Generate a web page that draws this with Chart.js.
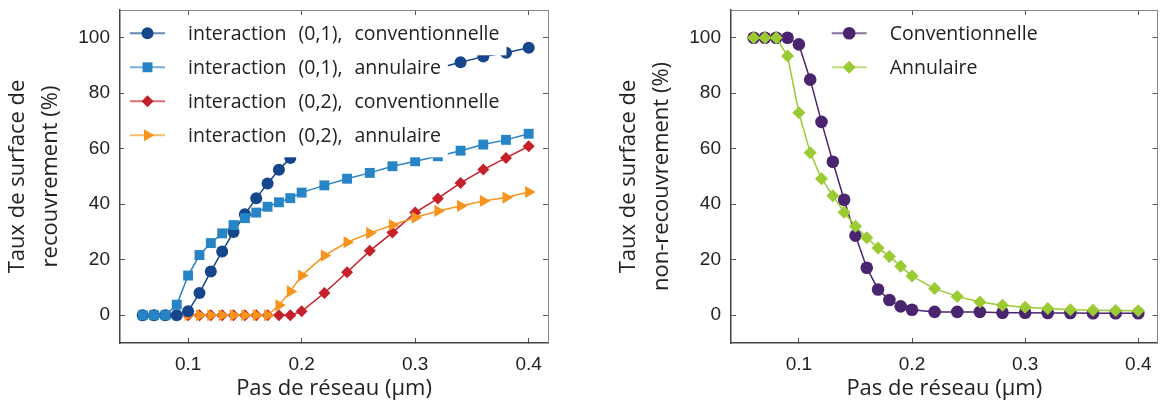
<!DOCTYPE html>
<html>
<head>
<meta charset="utf-8">
<script src="https://cdn.jsdelivr.net/npm/chart.js@4.4.1/dist/chart.umd.min.js"></script>
<style>
  html, body { margin: 0; padding: 0; background: #fff; }
  #wrap { position: relative; width: 1164px; height: 405px; }
  .panel { position: absolute; top: 0; height: 405px; }
  #left { left: 0; width: 611px; }
  #right { left: 611px; width: 553px; }
</style>
</head>
<body>
<div id="wrap">
  <div class="panel" id="left"><canvas id="chartLeft" width="611" height="405"></canvas></div>
  <div class="panel" id="right"><canvas id="chartRight" width="553" height="405"></canvas></div>
</div>
<script>
// lattice pitch (µm), same sampling in both panels
const pitch = [0.06, 0.07, 0.08, 0.09, 0.10, 0.11, 0.12, 0.13, 0.14, 0.15, 0.16, 0.17, 0.18, 0.19, 0.20,
               0.22, 0.24, 0.26, 0.28, 0.30, 0.32, 0.34, 0.36, 0.38, 0.40];
const xTicks = [0.1, 0.2, 0.3, 0.4];
const yTicks = [0, 20, 40, 60, 80, 100];

// left panel : overlap ratio (%)
const conv01 = [0, 0, 0, 0, 1.4, 8, 15.8, 23, 30, 36.4, 42.2, 47.5, 52.4, 56.7, 60.5,
                67, 73, 78, 82.5, 86, 89, 91.2, 93.2, 94.6, 96.4];
const ann01 = [0, 0, 0, 3.8, 14.3, 21.7, 26, 29.5, 32.5, 35, 37, 39.1, 40.7, 42.2, 44.2,
               46.8, 49.2, 51.3, 53.7, 55.5, 57.3, 59.3, 61.5, 63.2, 65.4];
const conv02 = [0, 0, 0, 0, 0, 0, 0, 0, 0, 0, 0, 0, 0, 0, 1.4,
                8, 15.5, 23.2, 29.8, 37, 42.1, 47.7, 52.5, 56.7, 60.9];
const ann02 = [0, 0, 0, 0, 0, 0, 0, 0, 0, 0, 0, 0, 3.6, 8.6, 14.3,
               21.5, 26.3, 29.6, 32.5, 35.2, 37.6, 39.4, 41.2, 42.4, 44.4];

// right panel : non-overlap ratio (%)
const convNon = [100, 100, 100, 100, 97.6, 84.9, 69.7, 55.3, 41.6, 28.7, 17.1, 9.3, 5.5, 3.2, 2.0,
                 1.2, 1.2, 1.2, 0.9, 0.9, 0.8, 0.8, 0.7, 0.7, 0.7];
const annNon = [100, 100, 100, 93.4, 73, 58.6, 49.2, 43.1, 37.1, 32.1, 27.9, 24.2, 21.2, 17.7, 14.1,
                9.6, 6.8, 4.8, 3.6, 2.9, 2.4, 2.0, 1.8, 1.7, 1.6];

const tickFont = { family: 'Liberation Sans', size: 19 };
const titleFont = { family: 'Open Sans', size: 22, lineHeight: 1.5 };
const legendFont = '19.5px "Open Sans"';

// legend drawn inside the plot, each row on its own white box (hides data under it)
const boxLegend = {
  id: 'boxLegend',
  afterDatasetsDraw(chart, args, opts) {
    const { ctx, chartArea } = chart;
    const x0 = chartArea.left + opts.left;
    const tx = x0 + 58;
    const rows = chart.data.datasets.map((ds, i) => ({ ds, y: chartArea.top + opts.top + i * opts.gap }));
    ctx.save();
    ctx.font = legendFont;
    ctx.wordSpacing = '7px'; // latex-like wide spaces
    ctx.textBaseline = 'middle';
    rows.forEach(({ ds, y }) => {
      const w = ctx.measureText(ds.label).width;
      ctx.fillStyle = '#fff';
      ctx.fillRect(x0 - 6, y - 17, tx + w + 7 - (x0 - 6), 39);
    });
    rows.forEach(({ ds, y }) => {
      ctx.globalAlpha = 0.65;
      ctx.strokeStyle = ds.borderColor;
      ctx.lineWidth = 2;
      ctx.beginPath();
      ctx.moveTo(x0, y);
      ctx.lineTo(x0 + 35, y);
      ctx.stroke();
      ctx.globalAlpha = 1;
      ctx.fillStyle = ds.borderColor;
      Chart.helpers.drawPoint(ctx, {
        pointStyle: ds.pointStyle, radius: ds.pointRadius, rotation: ds.pointRotation || 0, borderWidth: 0
      }, x0 + 17.5, y);
      ctx.fillStyle = '#222';
      ctx.fillText(ds.label, tx, y + 1);
    });
    ctx.restore();
  }
};

function series(label, values, color, style, radius, rotation, order) {
  return {
    label, order, xAxisID: 'x', yAxisID: 'y',
    data: pitch.map((x, i) => ({ x, y: values[i] })),
    borderColor: color, backgroundColor: color, borderWidth: 1.5,
    pointStyle: style, pointRadius: radius, pointHoverRadius: radius, pointRotation: rotation,
    pointBackgroundColor: color, pointBorderColor: color, pointBorderWidth: 0
  };
}

// keep tick labels from pushing the plot area around
function fixSize(prop, val) {
  return s => {
    s[prop] = val;
    s.paddingTop = 0; s.paddingBottom = 0; s.paddingLeft = 0; s.paddingRight = 0;
  };
}

function scales(yTitle) {
  const setX = s => { s.ticks = xTicks.map(v => ({ value: v })); };
  const setY = s => { s.ticks = yTicks.map(v => ({ value: v })); };
  const inner = { drawOnChartArea: false, tickLength: -5, tickColor: '#555' };
  return {
    x: {
      type: 'linear', position: 'bottom', min: 0.04, max: 0.417,
      afterBuildTicks: setX, afterFit: fixSize('height', 62),
      grid: inner, border: { color: '#444', width: 1.5 },
      ticks: { padding: 15, color: '#222', font: tickFont, callback: v => v.toFixed(1) },
      title: { display: true, text: 'Pas de réseau (μm)', color: '#222', font: titleFont, padding: { top: 0, bottom: 0 } }
    },
    y: {
      min: -10, max: 110,
      afterBuildTicks: setY, afterFit: fixSize('width', 120),
      grid: inner, border: { color: '#444', width: 1.5 },
      ticks: { padding: 15, color: '#222', font: tickFont },
      title: { display: true, text: yTitle, color: '#222', font: titleFont, padding: { top: 1.5, bottom: 0 } }
    },
    x2: {
      type: 'linear', position: 'top', min: 0.04, max: 0.417,
      afterBuildTicks: setX, afterFit: fixSize('height', 0),
      grid: inner, border: { color: '#888', width: 1 }, ticks: { display: false }
    },
    y2: {
      position: 'right', min: -10, max: 110,
      afterBuildTicks: setY, afterFit: fixSize('width', 0),
      grid: inner, border: { color: '#888', width: 1 }, ticks: { display: false }
    }
  };
}

function makeChart(id, datasets, yTitle, rightPad, legendLeft) {
  return new Chart(document.getElementById(id), {
    type: 'line',
    data: { datasets },
    options: {
      responsive: false,
      animation: false,
      layout: { padding: { top: 10, right: rightPad, bottom: 0, left: 0 } },
      plugins: {
        legend: { display: false },
        tooltip: { enabled: false },
        boxLegend: { left: legendLeft, top: 23.3, gap: 34 }
      },
      scales: scales(yTitle)
    },
    plugins: [boxLegend]
  });
}

makeChart('chartLeft', [
  series('interaction (0,1), conventionnelle', conv01, '#15468b', 'circle', 6, 0, 1),
  series('interaction (0,1), annulaire', ann01, '#2784c6', 'rect', 7, 0, 0),
  series('interaction (0,2), conventionnelle', conv02, '#c6202b', 'rectRot', 6, 0, 3),
  series('interaction (0,2), annulaire', ann02, '#f7941e', 'triangle', 7, 90, 2)
], ['Taux de surface de', 'recouvrement (%)'], 63, 10);

makeChart('chartRight', [
  series('Conventionnelle', convNon, '#4a246f', 'circle', 6.3, 0, 1),
  series('Annulaire', annNon, '#9acb33', 'rectRot', 6.5, 0, 0)
], ['Taux de surface de', 'non-recouvrement (%)'], 5, 100.7);
</script>
</body>
</html>
